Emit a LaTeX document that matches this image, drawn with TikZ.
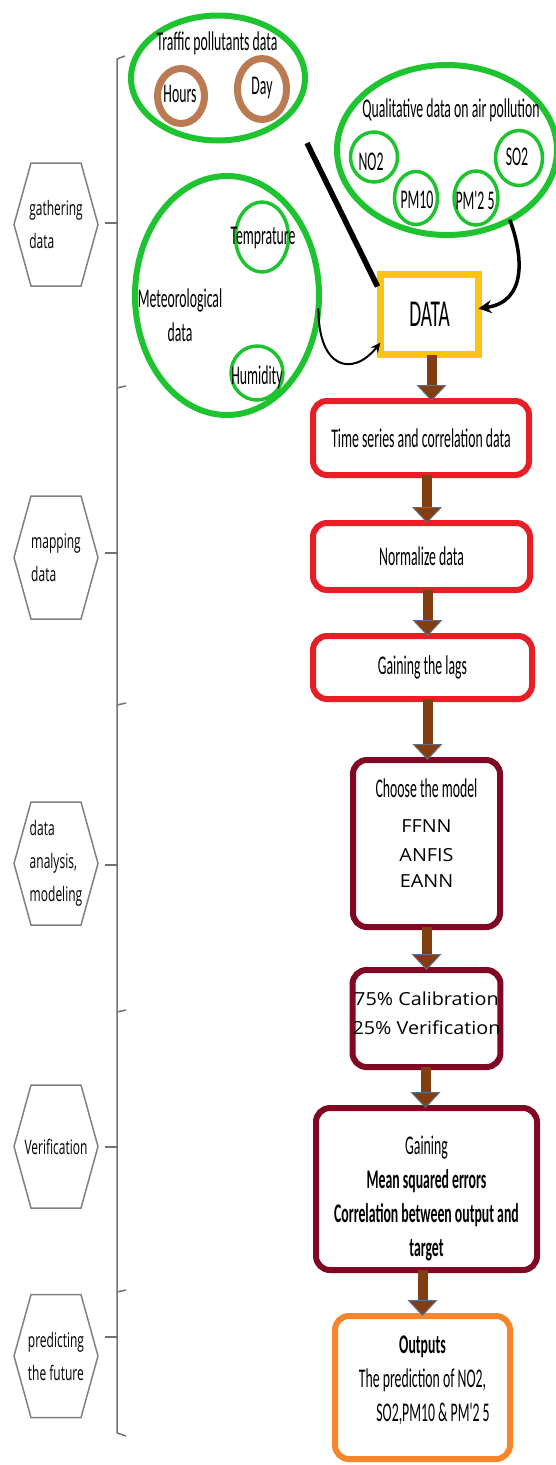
\documentclass[tikz,border=0pt]{standalone}
\usepackage{fontspec}
\setmainfont{Carlito}
\newfontfamily\narrowfont{Carlito}[FakeStretch=0.51]
\newfontfamily\hexfont{Open Sans}[FakeStretch=0.6]
\newfontfamily\widefont{Open Sans}[FakeStretch=1.1]
\usepackage{xcolor}
\usepackage{tikz}
\usetikzlibrary{shapes.geometric, arrows.meta, calc}

\definecolor{ringgreen}{RGB}{30,196,48}
\definecolor{ringbrown}{RGB}{186,122,82}
\definecolor{datagold}{RGB}{252,194,22}
\definecolor{stepred}{RGB}{230,30,38}
\definecolor{modelred}{RGB}{128,8,34}
\definecolor{outorange}{RGB}{247,134,42}
\definecolor{flowbrown}{RGB}{130,62,16}
\definecolor{tipslate}{RGB}{95,110,135}

\newcommand{\widetxt}[1]{{\widefont\fontsize{18}{29}\selectfont #1}}

\begin{document}
\begin{tikzpicture}[x=1pt, y=-1pt,
      every node/.style={inner sep=0pt, outer sep=0pt},
      lbl/.style={font=\narrowfont\fontsize{27}{34}\selectfont, align=center},
      hexlabel/.style={font=\hexfont\fontsize{20}{33}\selectfont, align=left},
      hexline/.style={draw=black!50, line width=1.5pt},
      brkline/.style={draw=black!55, line width=1.5pt},
      bigring/.style={ellipse, draw=ringgreen, line width=6pt},
      smallring/.style={ellipse, draw=ringgreen, line width=3.5pt},
      timering/.style={ellipse, draw=ringbrown, line width=7pt},
      databox/.style={rectangle, draw=datagold, line width=7pt, fill=white,
        font=\narrowfont\fontsize{38}{38}\selectfont},
      stepbox/.style={rectangle, rounded corners=14pt, draw=stepred,
        line width=6pt, fill=white, lbl},
      modelbox/.style={stepbox, draw=modelred},
      outbox/.style={stepbox, draw=outorange},
      flow/.style={draw=flowbrown, line width=10pt,
        -{Triangle[width=30pt, length=16pt, fill=flowbrown, color=tipslate, line width=1pt]}},
      feed/.style={draw=black, line width=3.5pt, -{Stealth[length=13pt, width=13pt]}},
      thinfeed/.style={draw=black, line width=2pt, -{Stealth[length=10pt, width=9pt]}}
    ]
    \useasboundingbox (0,0) rectangle (555,1465);

    % --- Stage bracket ---
    \draw[brkline] (125,56) -- (117,59) -- (117,1433) -- (126,1436);
    \foreach \y in {388,705,1012,1292}
      \draw[brkline] (117,\y) -- (126,\y-2);
    \foreach \y in {223,553,865,1147,1337}
      \draw[brkline] (117,\y) -- (105,\y);

    % --- Stage hexagons ---
    \foreach \hexname/\hy/\htext in {gather/224.5/{gathering\\data},
        mapping/557.5/{mapping\\data}, analysis/863.5/{data\\analysis,\\modeling},
        verify/1146.5/{Verification}, predict/1356/{predicting\\the future}}
    {
      \node[hexlabel] (\hexname) at (56,\hy) {\htext};
      \draw[hexline] ($(\hexname.center)+(-42,0)$) -- ++(17,-61.5) -- ++(50,0)
        -- ++(17,61.5) -- ++(-17,61.5) -- ++(-50,0) -- cycle;
    }

    % --- Traffic pollutants ---
    \node[bigring, minimum width=174, minimum height=125] (traffic) at (218,78) {};
    \node[lbl] (traffictitle) at (217,43) {Traffic pollutants data};
    \node[timering, minimum width=47, minimum height=55] (hours) at (181,96) {};
    \node[timering, minimum width=49, minimum height=61] (day) at (262,89) {};
    \node[lbl] (hourstext) at (180,94) {Hours};
    \node[lbl] (daytext) at (262,88) {Day};

    % --- Air pollution ---
    \node[bigring, minimum width=220, minimum height=170] (qual) at (447,150) {};
    \node[lbl] (qualtitle) at (451,110) {Qualitative data on air pollution};
    \node[smallring, minimum width=47, minimum height=50] (no2) at (374,157) {};
    \node[smallring, minimum width=43, minimum height=53] (pmten) at (416,198) {};
    \node[smallring, minimum width=44, minimum height=54] (pmfine) at (476,198) {};
    \node[smallring, minimum width=47, minimum height=55] (so2) at (519,158) {};
    \node[lbl] (no2text) at (371,162) {NO2};
    \node[lbl] (pmtentext) at (417,200) {PM10};
    \node[lbl] (pmfinetext) at (475,200) {PM'2 5};
    \node[lbl] (so2text) at (517,157) {SO2};

    % --- Meteorology ---
    \node[bigring, minimum width=184, minimum height=239] (meteo) at (227,295.5) {};
    \node[lbl] (meteotext) at (180,315) {Meteorological\\data};
    \node[smallring, minimum width=53, minimum height=70] (temp) at (262,237) {};
    \node[smallring, minimum width=52, minimum height=54] (humid) at (257,373) {};
    \node[lbl] (temptext) at (263,238) {Temprature};
    \node[lbl] (humidtext) at (257,377) {Humidity};

    % --- Data and processing spine ---
    \node[databox, minimum width=98, minimum height=80] (data) at (429.5,314.5) {DATA};
    \node[stepbox, minimum width=216, minimum height=74] (series) at (421,438)
      {Time series and correlation data};
    \node[stepbox, minimum width=217, minimum height=67] (normal) at (421.5,556.5)
      {Normalize data};
    \node[stepbox, minimum width=219, minimum height=63] (lags) at (422.5,667.5)
      {Gaining the lags};
    \node[modelbox, minimum width=147, minimum height=167] (model) at (426.5,843.5)
      {Choose the model\\[1pt]\widetxt{FFNN}\\[-5pt]\widetxt{ANFIS}\\[-8pt]\widetxt{EANN}\\[-13pt]\mbox{}};
    \node[modelbox, minimum width=147, minimum height=97,
      font=\widefont\fontsize{18}{29}\selectfont] (calib) at (426.5,1018.5)
      {75\% Calibration\\25\% Verification\\[-19pt]\mbox{}};
    \node[modelbox, minimum width=221, minimum height=162] (errors) at (426.5,1189)
      {\mbox{}\\[3pt]Gaining\\\textbf{Mean squared errors}\\
       \textbf{Correlation between output and}\\\textbf{target}};
    \node[outbox, minimum width=175, minimum height=143] (outputs) at (422.5,1387.5)
      {\textbf{Outputs}\\The prediction of NO2,\\\hspace*{21pt}SO2,PM10 \& PM'2 5\\[-17pt]\mbox{}};

    % --- Feeds into DATA ---
    \coordinate (strokestart) at (307,143);
    \draw[line width=5.5pt] (strokestart) -- ($(data.north west)+(-3,12)$);
    \draw[feed] (qual.-48) .. controls (524,258) and (526,302) .. ($(data.east)+(0,-6)$);
    \draw[thinfeed] (meteo.-8) .. controls (318,368) and (352,378) .. ($(data.west)+(0,28)$);

    % --- Spine arrows ---
    \draw[flow] ([xshift=2]data.south) -- ([xshift=2]data.south |- series.north);
    \draw[flow] ([xshift=6]series.south) -- ([xshift=6]series.south |- normal.north);
    \draw[flow] ([xshift=6]normal.south) -- ([xshift=6]normal.south |- lags.north);
    \draw[flow] ([xshift=5]lags.south) -- ([xshift=5]lags.south |- model.north);
    \draw[flow] (model.south) -- (model.south |- calib.north);
    \draw[flow] ([xshift=-1]calib.south) -- ([xshift=-1]calib.south |- errors.north);
    \draw[flow] ([xshift=-4]errors.south) -- ([xshift=-4]errors.south |- outputs.north);
  \end{tikzpicture}
\end{document}
